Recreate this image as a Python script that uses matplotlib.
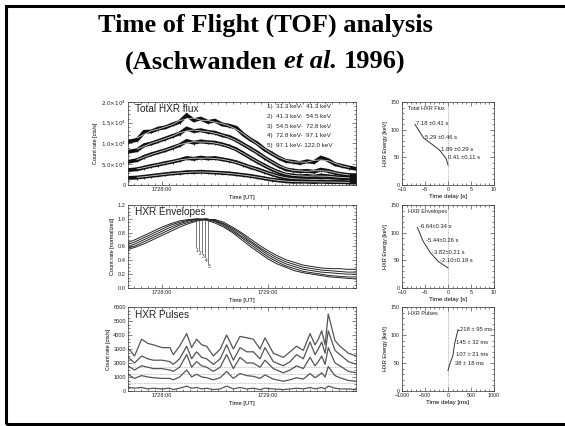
import matplotlib as mpl
mpl.use('Agg')
import matplotlib.pyplot as plt
from matplotlib.ticker import MultipleLocator, FixedLocator, FixedFormatter
from matplotlib.patches import Rectangle
import numpy as np

W, H = 565, 426
plt.rcParams['font.family'] = ['Liberation Sans', 'DejaVu Sans']

# ---- data: total HXR flux (counts/s, x1000), time in s after 17:28:00 UT
flux_t = [-19, -14, -10, -6, -2, 2, 6, 10, 14, 18, 22, 26, 30, 34, 38, 42, 46,
          50, 54, 58, 62, 66, 70, 74, 78, 82, 86, 90, 94, 98, 102, 106, 110]
flux_1 = [10.4, 10.9, 12.8, 12.9, 13.6, 13.9, 14.6, 15.2, 16.8, 15.6, 16.0, 15.2, 15.5, 14.6, 14.3, 13.8, 12.2,
          11.0, 10.0, 8.6, 7.6, 6.6, 5.8, 5.6, 5.3, 5.7, 5.5, 6.6, 6.0, 5.0, 4.6, 4.2, 3.9]
flux_2 = [8.0, 8.4, 9.6, 10.0, 10.6, 11.2, 11.8, 12.4, 13.6, 13.0, 13.2, 12.8, 12.6, 12.0, 11.6, 10.8, 9.8,
          8.8, 7.8, 6.6, 5.6, 4.6, 3.8, 3.5, 3.3, 3.4, 3.2, 3.7, 3.4, 2.9, 2.6, 2.4, 2.3]
flux_3 = [5.6, 6.0, 6.8, 7.4, 7.9, 8.4, 9.0, 9.6, 10.6, 10.2, 10.5, 10.3, 10.2, 9.8, 9.3, 8.6, 7.6,
          6.6, 5.6, 4.7, 3.8, 3.1, 2.5, 2.3, 2.1, 2.2, 2.0, 2.3, 2.1, 1.9, 1.8, 1.7, 1.6]
flux_4 = [3.6, 3.8, 4.2, 4.6, 4.9, 5.3, 5.6, 6.0, 6.5, 6.3, 6.6, 6.4, 6.5, 6.2, 5.9, 5.5, 4.9,
          4.3, 3.8, 3.2, 2.6, 2.1, 1.7, 1.5, 1.4, 1.4, 1.3, 1.4, 1.3, 1.2, 1.1, 1.0, 1.0]
flux_5 = [1.7, 1.8, 2.0, 2.2, 2.4, 2.6, 2.8, 2.9, 3.1, 3.1, 3.2, 3.1, 3.0, 2.9, 2.8, 2.6, 2.4,
          2.2, 1.9, 1.6, 1.3, 1.1, 0.9, 0.8, 0.8, 0.8, 0.7, 0.8, 0.7, 0.7, 0.7, 0.6, 0.6]
channels = ["1)  31.3 keV-  41.3 keV", "2)  41.3 keV-  54.5 keV", "3)  54.5 keV-  72.8 keV",
            "4)  72.8 keV-  97.1 keV", "5)  97.1 keV- 122.0 keV"]

# ---- envelopes (normalized)
env_t = [-20, -15, -10, -5, 0, 5, 10, 15, 20, 25, 30, 35, 40, 45, 50, 55, 60, 65, 70, 75, 80, 85, 90, 95, 100, 105, 110]
env_1 = [0.65, 0.70, 0.76, 0.82, 0.88, 0.93, 0.97, 0.99, 1.00, 0.98, 0.94, 0.88, 0.80, 0.70, 0.60, 0.51, 0.42, 0.35,
         0.30, 0.25, 0.22, 0.20, 0.18, 0.16, 0.15, 0.14, 0.13]
env_2 = [0.62, 0.67, 0.73, 0.79, 0.85, 0.91, 0.95, 0.98, 1.00, 0.99, 0.96, 0.90, 0.82, 0.73, 0.63, 0.54, 0.45, 0.38,
         0.32, 0.28, 0.24, 0.22, 0.20, 0.18, 0.17, 0.16, 0.16]
env_3 = [0.59, 0.64, 0.70, 0.76, 0.82, 0.88, 0.93, 0.97, 0.99, 1.00, 0.97, 0.92, 0.84, 0.75, 0.66, 0.57, 0.48, 0.41,
         0.35, 0.31, 0.27, 0.25, 0.23, 0.22, 0.21, 0.20, 0.20]
env_4 = [0.57, 0.61, 0.67, 0.73, 0.79, 0.85, 0.91, 0.95, 0.98, 1.00, 0.98, 0.93, 0.86, 0.78, 0.68, 0.59, 0.51, 0.44,
         0.38, 0.34, 0.30, 0.28, 0.26, 0.25, 0.24, 0.23, 0.23]
env_5 = [0.55, 0.59, 0.64, 0.70, 0.76, 0.82, 0.88, 0.93, 0.97, 0.99, 0.99, 0.95, 0.88, 0.80, 0.71, 0.62, 0.54, 0.47,
         0.41, 0.37, 0.33, 0.31, 0.29, 0.28, 0.28, 0.27, 0.27]
peak_t = [19.2, 20.7, 22.6, 24.2, 26.0]
peak_low = [0.59, 0.55, 0.50, 0.45, 0.36]

# ---- pulses (counts/s)
pulse_t = [-19, -18.1, -15.5, -11.5, -8, -4.9, 0, 4.5, 6.4, 10, 14, 16.8, 19.6, 22.5, 25.3, 29.1, 33, 36.6, 40.4,
           44.2, 48, 51.7, 55.5, 58.3, 63, 68.7, 72.5, 76.2, 80, 83.8, 86.6, 88.5, 90.4, 92.3, 94.1, 97.9, 100.7,
           105.5, 110]
pulse_1 = [3000, 2900, 2500, 3700, 3400, 3300, 3100, 3100, 2600, 3200, 4100, 3100, 3700, 3300, 3200, 2500, 3000,
           4000, 3000, 3900, 3800, 3700, 3000, 3800, 2700, 2400, 2800, 3200, 2900, 4100, 3300, 3700, 4300, 3300,
           5500, 3600, 3200, 2700, 2500]
pulse_2 = [2400, 2300, 2000, 2500, 2300, 2200, 2200, 2100, 1900, 2300, 3200, 2300, 2800, 2400, 2300, 1900, 2300,
           3300, 2200, 3100, 2800, 2800, 2300, 3100, 2100, 1800, 2100, 2600, 2300, 3500, 2600, 3000, 3500, 2700,
           4300, 2900, 2600, 2100, 1900]
pulse_3 = [1800, 1700, 1500, 1800, 1700, 1600, 1600, 1500, 1400, 1700, 2600, 1700, 2100, 1800, 1700, 1400, 1700,
           2600, 1600, 2400, 2000, 2000, 1700, 2200, 1600, 1300, 1500, 1800, 1600, 2400, 1800, 2100, 2500, 1900,
           3100, 2000, 1800, 1400, 1300]
pulse_4 = [1200, 1100, 900, 1100, 1000, 950, 900, 900, 800, 1000, 1500, 1000, 1200, 1000, 950, 800, 950,
           1400, 900, 1250, 1100, 1050, 900, 1150, 850, 700, 800, 950, 850, 1250, 950, 1100, 1300, 1000,
           1750, 1100, 950, 750, 700]
pulse_5 = [300, 250, 200, 250, 150, 200, 150, 200, 100, 200, 350, 200, 250, 150, 200, 100, 150,
           350, 150, 250, 150, 200, 100, 200, 150, 100, 150, 200, 150, 250, 150, 200, 250, 150,
           350, 200, 150, 150, 100]
pulse_base = [1700, 1200, 550]

# ---- time-of-flight delays
energy = [109.6, 84.9, 63.6, 47.9, 36.3]
delay_flux = [-7.18, -5.29, -1.89, -0.41, 0.0]
delay_env = [-6.64, -5.44, -3.82, -2.10, 0.0]
delay_pulse = [218, 145, 107, 38, 0]
lab_flux = ["7.18 \u00b10.41 s", "5.29 \u00b10.46 s", "1.89 \u00b10.29 s", "0.41 \u00b10.11 s"]
lab_env = ["-6.64\u00b10.34 s", "-5.44\u00b10.26 s", "-3.82\u00b10.21 s", "-2.10\u00b10.19 s"]
lab_pulse = ["218 \u00b1 95 ms", "145 \u00b1 32 ms", "107 \u00b1 21 ms", "38 \u00b1 18 ms"]

fig = plt.figure(figsize=(W / 100, H / 100), dpi=100)
fig.patch.set_facecolor('white')


def px_axes(x0, y0, x1, y1):
    return fig.add_axes([x0 / W, 1 - y1 / H, (x1 - x0) / W, (y1 - y0) / H])


def idl(ax, size=4.1):
    ax.tick_params(which='both', direction='in', top=True, right=True, labelsize=size, pad=1.5,
                   width=0.4, colors='#222222')
    ax.tick_params(which='major', length=2.6)
    ax.tick_params(which='minor', length=1.3)
    for s in ax.spines.values():
        s.set_linewidth(0.5)
        s.set_color('#333333')


def time_axis(ax, labels=('1728:00', '1729:00')):
    ax.set_xlim(-19.2, 109.8)
    ax.xaxis.set_major_locator(FixedLocator([0, 60]))
    ax.xaxis.set_major_formatter(FixedFormatter(list(labels)))
    ax.xaxis.set_minor_locator(MultipleLocator(4))
    ax.set_xlabel('Time [UT]', fontsize=4.2, labelpad=2)


# frame and title
title_cx = 265
fig.patches.append(Rectangle((6 / W, 1 - 424 / H), 562 / W, 418 / H, transform=fig.transFigure,
                             fill=False, lw=2.2, ec='black', clip_on=False))
fig.text(title_cx / W, 1 - 25 / H, 'Time of Flight (TOF) analysis', ha='center', va='center',
         family='Liberation Serif', weight='bold', size=19)
r = fig.canvas.get_renderer()
parts = [('(Aschwanden', 'normal'), ('et al.', 'italic'), ('1996)', 'normal')]
objs = [fig.text(0, 1 - 62 / H, s, ha='left', va='center', family='Liberation Serif', weight='bold',
                 style=st, size=19) for s, st in parts]
gap = 19 * 1.389 * 0.25
widths = [o.get_window_extent(r).width for o in objs]
x = title_cx - (sum(widths) + gap * 2) / 2
for o, w in zip(objs, widths):
    o.set_x(x / W)
    x += w + gap

# --- left top: total flux
ax = px_axes(128, 102, 356, 185)
idl(ax)
for v in (flux_1, flux_2, flux_3, flux_4, flux_5):
    vals = np.array(v) * 1000
    ax.plot(flux_t, vals, color='#111111', lw=2.8, solid_joinstyle='miter',
            marker='|', ms=3.5, mew=0.6)
    smooth = np.convolve(vals, np.ones(3) / 3, mode='same')
    ax.plot(flux_t[1:-1], smooth[1:-1], color='white', lw=0.6, alpha=0.8)
time_axis(ax, ('1728:00', ''))
ax.set_ylim(0, 2.0e4)
ax.yaxis.set_major_locator(FixedLocator([0, 5e3, 1e4, 1.5e4, 2e4]))
ax.yaxis.set_major_formatter(FixedFormatter(['0', r'$5.0{\times}10^3$', r'$1.0{\times}10^4$',
                                             r'$1.5{\times}10^4$', r'$2.0{\times}10^4$']))
ax.yaxis.set_minor_locator(MultipleLocator(1000))
ax.set_ylabel('Count rate [cts/s]', fontsize=4.0, labelpad=2)
ax.text(0.03, 0.91, 'Total HXR flux', transform=ax.transAxes, fontsize=7.2, va='center', color='#222222')
for i, c in enumerate(channels):
    ax.text(0.61, 0.94 - i * 0.115, c, transform=ax.transAxes, fontsize=4.5, va='center', color='#222222')

# --- left middle: envelopes
ax = px_axes(128, 205, 356, 288)
idl(ax)
for v in (env_1, env_2, env_3, env_4, env_5):
    ax.plot(env_t, v, color='#222222', lw=0.7)
for i, (tp, lo) in enumerate(zip(peak_t, peak_low)):
    ax.plot([tp, tp], [1.0, lo], color='#444444', lw=0.5)
    ax.text(tp + 0.6, lo - 0.05, str(i + 1), fontsize=3.4, ha='center', va='center', color='#222222')
time_axis(ax)
ax.set_ylim(0, 1.2)
ax.yaxis.set_major_locator(MultipleLocator(0.2))
ax.yaxis.set_major_formatter(mpl.ticker.FormatStrFormatter('%.1f'))
ax.yaxis.set_minor_locator(MultipleLocator(0.05))
ax.set_ylabel('Count rate [normalized]', fontsize=4.0, labelpad=2)
ax.text(0.03, 0.91, 'HXR Envelopes', transform=ax.transAxes, fontsize=7.2, va='center', color='#222222')

# --- left bottom: pulses
ax = px_axes(128, 307, 356, 391)
idl(ax)
for b in pulse_base:
    ax.axhline(b, color='#888888', lw=0.5, ls=(0, (1, 1.5)))
for v in (pulse_1, pulse_2, pulse_3, pulse_4, pulse_5):
    ax.plot(pulse_t, v, color='#555555', lw=0.9)
time_axis(ax)
ax.set_ylim(0, 6000)
ax.yaxis.set_major_locator(MultipleLocator(1000))
ax.yaxis.set_minor_locator(MultipleLocator(250))
ax.set_ylabel('Count rate [cts/s]', fontsize=4.0, labelpad=2)
ax.text(0.03, 0.91, 'HXR Pulses', transform=ax.transAxes, fontsize=7.2, va='center', color='#222222')


# --- right panels
def tof(ax, delays, labels, title, xlab, label_x, dx):
    idl(ax, size=3.8)
    ax.axvline(0, color='#777777', lw=0.5, ls=(0, (1, 1.5)))
    ax.plot(delays, energy, color='#333333', lw=0.7)
    for d, e, s, lx in zip(delays, energy, labels, label_x):
        ax.text(lx, e + 1, s, fontsize=4.2, ha='left', va='center', color='#222222')
    ax.set_xlim(-dx, dx)
    ax.set_ylim(0, 150)
    ax.xaxis.set_major_locator(MultipleLocator(dx / 2))
    ax.xaxis.set_minor_locator(MultipleLocator(dx / 10))
    ax.yaxis.set_major_locator(MultipleLocator(50))
    ax.yaxis.set_minor_locator(MultipleLocator(10))
    ax.set_xlabel(xlab, fontsize=4.4, labelpad=1.5)
    ax.set_ylabel('HXR Energy [keV]', fontsize=4.0, labelpad=2)
    ax.text(0.07, 0.92, title, transform=ax.transAxes, fontsize=4.0, va='center', color='#222222')


ax = px_axes(402, 102, 494, 185)
tof(ax, delay_flux, lab_flux, 'Total HXR Flux', 'Time delay [s]', [-6.9, -4.9, -1.6, -0.1], 10)
ax = px_axes(402, 205, 494, 288)
tof(ax, delay_env, lab_env, 'HXR Envelopes', 'Time delay [s]', [-6.4, -4.8, -3.4, -1.7], 10)
ax = px_axes(402, 307, 494, 391)
tof(ax, delay_pulse, lab_pulse, 'HXR Pulses', 'Time delay [ms]', [250, 180, 175, 160], 1000)
ax.plot([delay_pulse[0], 245], [energy[0], energy[0]], color='#333333', lw=0.6)

fig.savefig('out.png', dpi=100, facecolor='white')
